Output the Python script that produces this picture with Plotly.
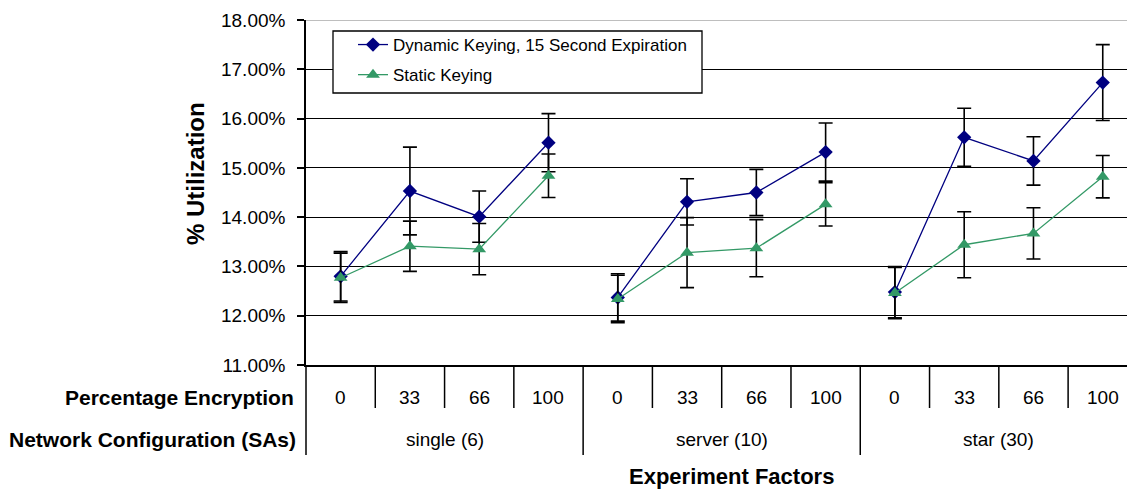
import plotly.graph_objects as go

# ---- data ----
encryption_labels = ["0", "33", "66", "100", "0", "33", "66", "100", "0", "33", "66", "100"]
network_labels = ["single (6)", "server (10)", "star (30)"]
dynamic_vals = [12.80, 14.53, 14.01, 15.51, 12.37, 14.31, 14.50, 15.32, 12.48, 15.62, 15.14, 16.73]
dynamic_err = [0.50, 0.89, 0.52, 0.59, 0.48, 0.47, 0.47, 0.59, 0.52, 0.59, 0.49, 0.77]
static_vals = [12.77, 13.41, 13.35, 14.84, 12.34, 13.28, 13.37, 14.26, 12.46, 13.44, 13.67, 14.82]
static_err = [0.50, 0.51, 0.52, 0.44, 0.48, 0.71, 0.58, 0.44, 0.52, 0.67, 0.52, 0.43]
series_names = ["Dynamic Keying, 15 Second Expiration", "Static Keying"]
y_ticks = [11, 12, 13, 14, 15, 16, 17, 18]
y_tick_labels = ["11.00%", "12.00%", "13.00%", "14.00%", "15.00%", "16.00%", "17.00%", "18.00%"]

W, H = 1127, 491
L, R, T, B = 306, 0, 20, 126
plot_h = H - T - B
plot_w = W - L - R

def py(pix):  # pixel y -> paper y
    return (H - B - pix) / plot_h

def px(pix):  # pixel x -> paper x
    return (pix - L) / plot_w

GROUP = 4
xs = list(range(len(encryption_labels)))
FONT = "Liberation Sans, Arial, sans-serif"

fig = go.Figure()
series = [
    (series_names[0], dynamic_vals, dynamic_err, "#000080", "diamond", 11, "a"),
    (series_names[1], static_vals, static_err, "#339966", "triangle-up", 12, "b"),
]
for name, vals, errs, color, sym, msize, lg in series:
    for g in range(len(network_labels)):
        sl = slice(g * GROUP, (g + 1) * GROUP)
        fig.add_trace(go.Scatter(
            x=xs[sl], y=vals[sl], name=name, mode="lines+markers",
            line=dict(color=color, width=1.3),
            marker=dict(symbol=sym, size=msize, color=color),
            error_y=dict(type="data", array=errs[sl], visible=True, color="black", thickness=1.6, width=7),
            legendgroup=lg, showlegend=(g == 0),
        ))

shapes = []
# top (18%) line in gray
shapes.append(dict(type="line", xref="paper", yref="y", x0=0, x1=1, y0=18, y1=18,
                   line=dict(color="#a8a8a8", width=1.5), layer="above"))
# legend box
shapes.append(dict(type="rect", xref="paper", yref="paper",
                   x0=px(333), x1=px(702), y0=py(93), y1=py(31),
                   fillcolor="white", line=dict(color="black", width=1.3), layer="above"))
# table separators
n = len(encryption_labels)
for i in range(n - 1):
    b = i + 0.5
    is_group = (i + 1) % GROUP == 0
    shapes.append(dict(type="line", xref="x", yref="paper", x0=b, x1=b, y0=0,
                       y1=py(455) if is_group else py(408),
                       line=dict(color="black", width=1.5)))
shapes.append(dict(type="line", xref="paper", yref="paper", x0=0, x1=0, y0=0, y1=py(455),
                   line=dict(color="black", width=1.5)))

annotations = []
for i, lab in enumerate(encryption_labels):
    annotations.append(dict(x=i, y=py(397), xref="x", yref="paper", text=lab, showarrow=False,
                            xanchor="center", yanchor="middle",
                            font=dict(family=FONT, size=19, color="black")))
for g, lab in enumerate(network_labels):
    annotations.append(dict(x=GROUP * g + (GROUP - 1) / 2, y=py(439), xref="x", yref="paper", text=lab,
                            showarrow=False, xanchor="center", yanchor="middle",
                            font=dict(family=FONT, size=19, color="black")))
annotations.append(dict(x=px(296), y=py(397), xref="paper", yref="paper", text="<b>Percentage Encryption</b>",
                        showarrow=False, xanchor="right", yanchor="middle",
                        font=dict(family=FONT, size=21, color="black")))
annotations.append(dict(x=px(298), y=py(439), xref="paper", yref="paper", text="<b>Network Configuration (SAs)</b>",
                        showarrow=False, xanchor="right", yanchor="middle",
                        font=dict(family=FONT, size=21, color="black")))
annotations.append(dict(x=px(731), y=py(476), xref="paper", yref="paper", text="<b>Experiment Factors</b>",
                        showarrow=False, xanchor="center", yanchor="middle",
                        font=dict(family=FONT, size=22, color="black")))
annotations.append(dict(x=px(195), y=py(174), xref="paper", yref="paper", text="<b>% Utilization</b>",
                        showarrow=False, xanchor="center", yanchor="middle", textangle=-90,
                        font=dict(family=FONT, size=24, color="black")))

fig.update_layout(
    width=W, height=H,
    margin=dict(l=L, r=R, t=T, b=B, pad=0),
    paper_bgcolor="white", plot_bgcolor="white",
    font=dict(family=FONT, color="black"),
    showlegend=True,
    legend=dict(x=px(353), y=py(27), xanchor="left", yanchor="top",
                bgcolor="rgba(0,0,0,0)", borderwidth=0,
                font=dict(family=FONT, size=17, color="black"),
                tracegroupgap=5),
    xaxis=dict(range=[-0.5, 11.35], showticklabels=False, showgrid=False, zeroline=False,
               showline=True, linecolor="black", linewidth=1.5, ticks=""),
    yaxis=dict(range=[11, 18], tickmode="array", tickvals=y_ticks, ticktext=y_tick_labels,
               showgrid=True, gridcolor="black", gridwidth=1.2, zeroline=False,
               showline=True, linecolor="black", linewidth=1.5,
               ticks="outside", ticklen=7, tickcolor="black", tickwidth=1.5,
               ticklabelstandoff=8,
               tickfont=dict(family=FONT, size=19, color="black")),
    shapes=shapes,
    annotations=annotations,
)

fig.write_html("out.html")
